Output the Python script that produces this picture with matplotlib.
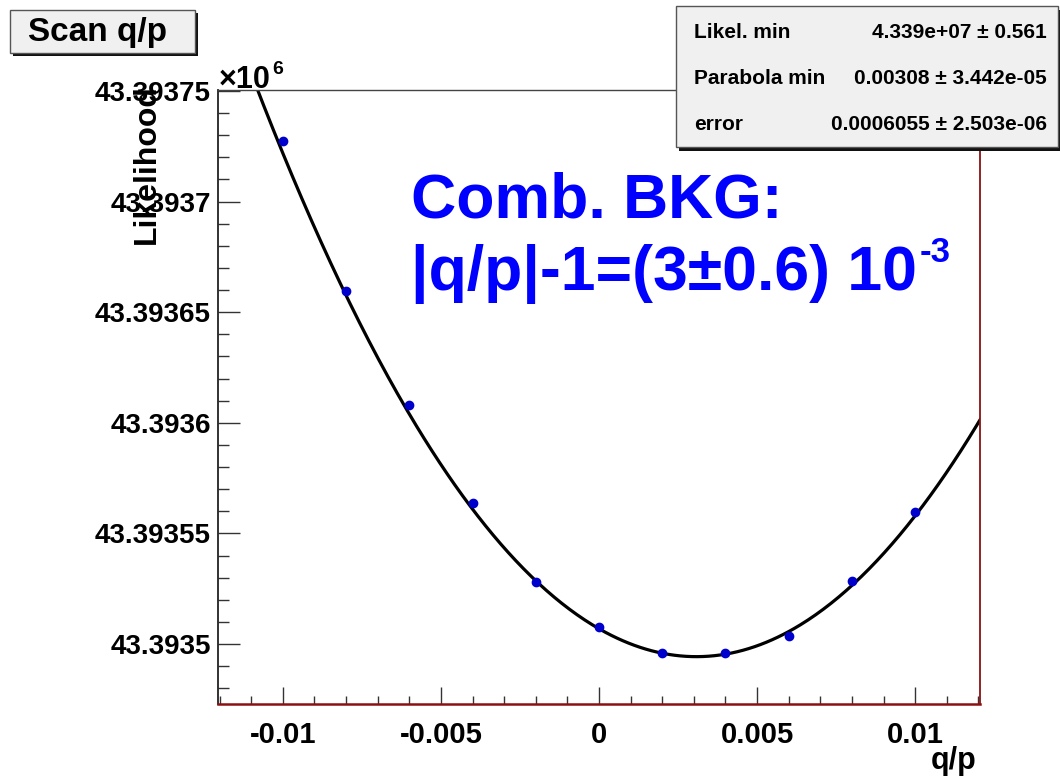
import numpy as np
import matplotlib.pyplot as plt
from matplotlib.patches import Rectangle
from matplotlib.ticker import MultipleLocator, FuncFormatter

plt.rcParams['font.family'] = ['Liberation Sans', 'DejaVu Sans']
plt.rcParams['font.weight'] = 'bold'
plt.rcParams['axes.unicode_minus'] = False

# scan points
qp = [-0.01, -0.008, -0.006, -0.004, -0.002, 0.0, 0.002, 0.004, 0.006, 0.008, 0.01]
likelihood = [43393727.4, 43393659.6, 43393608.0, 43393563.7, 43393528.0,
              43393507.8, 43393495.9, 43393495.9, 43393503.8, 43393528.5,
              43393559.7]

# parabola fit parameters
fit_x0 = 0.00308
fit_min = 43393494.3
fit_curv = 1.33e6

stats_names = ['Likel. min', 'Parabola min', 'error']
stats_values = ['4.339e+07 \u00b1 0.561', '0.00308 \u00b1 3.442e-05',
                '0.0006055 \u00b1 2.503e-06']

W, H = 1060, 778


def fx(x):
    return x / W


def fy(y):
    return 1 - y / H


fig = plt.figure(figsize=(W / 100, H / 100), dpi=100)
ax = fig.add_axes([fx(218), fy(704), fx(980) - fx(218), fy(90) - fy(704)])

xs = np.linspace(-0.01205, 0.01205, 400)
ax.plot(xs, fit_min + fit_curv * (xs - fit_x0) ** 2, color='black', lw=2.3, zorder=2)
ax.plot(qp, likelihood, 'o', color='#0000cd', ms=6, zorder=3)

ax.set_xlim(-0.01205, 0.01205)
ax.set_ylim(43393472.9, 43393750.4)

ax.xaxis.set_major_locator(MultipleLocator(0.005))
ax.xaxis.set_minor_locator(MultipleLocator(0.001))
ax.yaxis.set_major_locator(MultipleLocator(50))
ax.yaxis.set_minor_locator(MultipleLocator(10))


def xfmt(v, p):
    s = f"{round(v, 4):.3f}".rstrip('0').rstrip('.')
    return '0' if s in ('-0', '0') else s


def yfmt(v, p):
    return f"{v / 1e6:.5f}".rstrip('0').rstrip('.')


ax.xaxis.set_major_formatter(FuncFormatter(xfmt))
ax.yaxis.set_major_formatter(FuncFormatter(yfmt))

ax.tick_params(axis='x', which='major', direction='in', length=12, width=1,
               labelsize=21, pad=12)
ax.tick_params(axis='x', which='minor', direction='in', length=6, width=1)
ax.tick_params(axis='y', which='major', direction='in', length=16, width=1,
               labelsize=20, pad=5)
ax.tick_params(axis='y', which='minor', direction='in', length=8, width=1)
ax.tick_params(top=False, right=False, which='both', color='#333333')

ax.spines['left'].set_color('#222222')
ax.spines['left'].set_linewidth(1.3)
ax.spines['top'].set_color('#444444')
ax.spines['top'].set_linewidth(1.0)
ax.spines['bottom'].set_color('#8b1010')
ax.spines['bottom'].set_linewidth(1.8)
ax.spines['right'].set_color('#8b1010')
ax.spines['right'].set_linewidth(1.3)

# axis titles
fig.text(fx(147), fy(84), 'Likelihood', rotation=90, ha='center', va='top',
         fontsize=23, zorder=0)
fig.text(fx(977), fy(746), 'q/p', ha='right', va='top', fontsize=22)
t10 = fig.text(fx(219), fy(88), '\u00d710', ha='left', va='baseline', fontsize=22)
ax.annotate('6', xy=(1, 1), xycoords=t10, xytext=(1, -3),
            textcoords='offset points', ha='left', va='center', fontsize=14,
            annotation_clip=False)

# title box
fig.patches.append(Rectangle((fx(13), fy(56)), fx(185), fy(10) - fy(53),
                             transform=fig.transFigure, facecolor='#111111',
                             edgecolor='none', zorder=4))
fig.patches.append(Rectangle((fx(10), fy(53)), fx(185), fy(10) - fy(53),
                             transform=fig.transFigure, facecolor='#f0f0f0',
                             edgecolor='#555555', lw=1, zorder=5))
fig.text(fx(98), fy(32), 'Scan q/p', ha='center', va='center', fontsize=24, zorder=6)

# stats box
fig.patches.append(Rectangle((fx(679), fy(151)), fx(385), fy(6) - fy(147),
                             transform=fig.transFigure, facecolor='#111111',
                             edgecolor='none', zorder=4))
fig.patches.append(Rectangle((fx(676), fy(147)), fx(382), fy(6) - fy(147),
                             transform=fig.transFigure, facecolor='#f0f0f0',
                             edgecolor='#555555', lw=1, zorder=5))
for i, (name, val) in enumerate(zip(stats_names, stats_values)):
    yy = fy(32 + 46 * i)
    fig.text(fx(694), yy, name, ha='left', va='center', fontsize=15, zorder=6)
    fig.text(fx(1047), yy, val, ha='right', va='center', fontsize=15, zorder=6)

# result annotation
fig.text(fx(411), fy(217), 'Comb. BKG:', color='#0000ff', fontsize=45,
         ha='left', va='baseline', zorder=6)
t2 = fig.text(fx(411), fy(290), '|q/p|-1=(3\u00b10.6) 10', color='#0000ff',
              fontsize=45, ha='left', va='baseline', zorder=6)
ax.annotate('-3', xy=(1, 1), xycoords=t2, xytext=(2, -6),
            textcoords='offset points', ha='left', va='center', fontsize=25,
            color='#0000ff', annotation_clip=False, zorder=6)

fig.savefig('out.png', dpi=100)
